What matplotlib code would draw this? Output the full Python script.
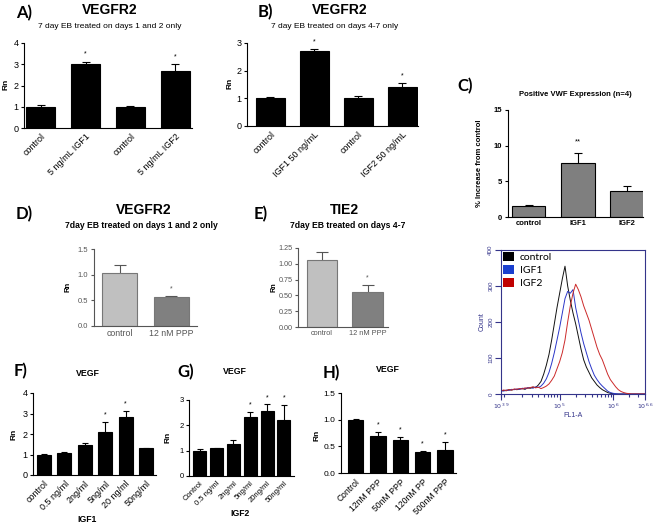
import numpy as np
import matplotlib
matplotlib.use('Agg')
import matplotlib.pyplot as plt
from matplotlib.patches import Patch

plt.rcParams['font.family'] = ['Liberation Sans', 'DejaVu Sans']

# ---- data ----
a_labels = ['control', '5 ng/mL IGF1', 'control', '5 ng/mL IGF2']
a_vals = [1.0, 3.0, 1.0, 2.67]
a_errs = [0.07, 0.12, 0.03, 0.33]
a_stars = ['', '*', '', '*']

b_labels = ['control', 'IGF1 50 ng/mL', 'control', 'IGF2 50 ng/mL']
b_vals = [1.0, 2.7, 1.0, 1.42]
b_errs = [0.05, 0.08, 0.07, 0.12]
b_stars = ['', '*', '', '*']

c_labels = ['control', 'IGF1', 'IGF2']
c_vals = [1.6, 7.6, 3.6]
c_errs = [0.15, 1.4, 0.7]
c_stars = ['', '**', '']

d_labels = ['control', '12 nM PPP']
d_vals = [1.03, 0.57]
d_errs = [0.15, 0.02]
d_stars = ['', '*']

e_labels = ['control', '12 nM PPP']
e_vals = [1.06, 0.55]
e_errs = [0.12, 0.12]
e_stars = ['', '*']

f_labels = ['control', '0.5 ng/ml', '2ng/ml', '5ng/ml', '20 ng/ml', '50ng/ml']
f_vals = [1.0, 1.07, 1.45, 2.12, 2.85, 1.32]
f_errs = [0.03, 0.06, 0.13, 0.45, 0.25, 0.02]
f_stars = ['', '', '', '*', '*', '']

g_labels = ['Control', '0.5 ng/ml', '2ng/ml', '5ng/ml', '20ng/ml', '50ng/ml']
g_vals = [1.0, 1.1, 1.27, 2.32, 2.58, 2.22]
g_errs = [0.07, 0.02, 0.17, 0.2, 0.25, 0.58]
g_stars = ['', '', '', '*', '*', '*']

h_labels = ['Control', '12nM PPP', '50nM PPP', '120nM PP', '500nM PPP']
h_vals = [1.0, 0.69, 0.61, 0.39, 0.44]
h_errs = [0.01, 0.07, 0.06, 0.02, 0.14]
h_stars = ['', '*', '*', '*', '*']

# flow cytometry histogram (log10 FL1-A vs count)
flow_log = [3.90, 3.95, 4.00, 4.05, 4.10, 4.15, 4.20, 4.25, 4.30, 4.35,
            4.40, 4.45, 4.50, 4.55, 4.60, 4.65, 4.70, 4.75, 4.80, 4.85,
            4.90, 4.95, 5.00, 5.05, 5.10, 5.15, 5.20, 5.25, 5.30, 5.35,
            5.40, 5.45, 5.50, 5.55, 5.60, 5.65, 5.70, 5.75, 5.80, 5.85,
            5.90, 5.95, 6.00, 6.05, 6.10, 6.15, 6.20, 6.25, 6.30, 6.35,
            6.40, 6.45, 6.50, 6.55, 6.60]
flow_control = [8, 10, 9, 12, 11, 13, 12, 14, 15, 13,
                17, 16, 19, 18, 25, 35, 55, 80, 110, 150,
                195, 240, 280, 320, 355, 300, 260, 225, 195, 160,
                125, 95, 75, 60, 45, 35, 25, 18, 12, 8,
                4, 2, 1, 0, 0, 0, 0, 0, 0, 0,
                0, 0, 0, 0, 0]
flow_igf1 = [10, 8, 11, 10, 13, 12, 14, 13, 16, 15,
             17, 18, 16, 20, 18, 22, 30, 42, 60, 85,
             115, 150, 185, 225, 265, 285, 280, 290, 240, 205,
             170, 140, 115, 90, 70, 52, 40, 30, 22, 15,
             8, 4, 2, 1, 0, 0, 0, 0, 0, 0,
             0, 0, 0, 0, 0]
flow_igf2 = [9, 11, 10, 12, 11, 14, 13, 15, 14, 17,
             16, 18, 20, 17, 19, 15, 18, 22, 28, 38,
             50, 70, 90, 115, 150, 200, 245, 280, 305, 290,
             270, 245, 225, 205, 180, 155, 130, 110, 95, 75,
             55, 40, 30, 20, 12, 7, 4, 2, 1, 0,
             0, 0, 0, 0, 0]
flow_names = ['control', 'IGF1', 'IGF2']

W, H = 661, 526
fig = plt.figure(figsize=(W / 100, H / 100), dpi=100)


def px_axes(x0, y0, x1, y1):
    return fig.add_axes([x0 / W, 1 - y1 / H, (x1 - x0) / W, (y1 - y0) / H])


def px_text(x, y, s, **kw):
    kw.setdefault('ha', 'center')
    kw.setdefault('va', 'center')
    fig.text(x / W, 1 - y / H, s, **kw)


def bar_panel(box, labels, vals, errs, stars, ylim, yticks, xlim, ylab_px,
              ytlabels=None, color='black', edge='black', ecolor='black',
              acolor='black', rot=45, ytick_fs=6.5, xtick_fs=6.5,
              ylabel='Rn', ylabel_fs=6, star_fs=5, bold=False, width=0.66,
              capsize=3, star_off=0.09):
    ax = px_axes(*box)
    x = np.arange(len(vals))
    ax.bar(x, vals, width=width, color=color, edgecolor=edge, linewidth=0.8, zorder=2)
    eb = ax.errorbar(x, vals, yerr=[np.zeros(len(vals)), errs], fmt='none',
                     ecolor=ecolor, elinewidth=0.8, capsize=capsize,
                     capthick=0.8, zorder=1)
    eb[1][0].set_visible(False)
    span = ylim[1] - ylim[0]
    for xi, v, e, s in zip(x, vals, errs, stars):
        if s:
            ax.text(xi, v + e + star_off * span, s, ha='center', va='center',
                    fontsize=star_fs, color=ecolor)
    ax.set_xlim(xlim)
    ax.set_ylim(ylim)
    ax.set_yticks(yticks)
    if ytlabels is not None:
        ax.set_yticklabels(ytlabels)
    ax.set_xticks(x)
    fw = 'bold' if bold else 'normal'
    if rot:
        ax.set_xticklabels(labels, rotation=rot, ha='right', rotation_mode='anchor',
                           fontsize=xtick_fs, fontweight=fw)
    else:
        ax.set_xticklabels(labels, fontsize=xtick_fs, fontweight=fw)
    for t in ax.get_yticklabels():
        t.set_fontsize(ytick_fs)
        t.set_fontweight(fw)
    for s in ['top', 'right']:
        ax.spines[s].set_visible(False)
    for s in ['left', 'bottom']:
        ax.spines[s].set_color(acolor)
        ax.spines[s].set_linewidth(0.8)
    ax.tick_params(axis='y', length=2.5, width=0.8, colors=acolor, pad=1.5)
    ax.tick_params(axis='x', length=0, colors=acolor, pad=3 if rot else 2)
    ax.set_ylabel(ylabel, fontsize=ylabel_fs, fontweight='bold', color='black')
    lx, ly = ylab_px
    ax.yaxis.set_label_coords((lx - box[0]) / (box[2] - box[0]),
                              (box[3] - ly) / (box[3] - box[1]))
    return ax


# A
bar_panel((24, 43, 192, 128), a_labels, a_vals, a_errs, a_stars, (0, 4), [0, 1, 2, 3, 4],
          (-0.37, 3.37), (10, 84))
px_text(24, 13, 'A)', fontsize=12, fontweight='bold', family='Lato')
px_text(110, 10, 'VEGFR2', fontsize=10, fontweight='bold')
px_text(110, 26, '7 day EB treated on days 1 and 2 only', fontsize=6)

# B
bar_panel((247, 43, 418, 126), b_labels, b_vals, b_errs, b_stars, (0, 3), [0, 1, 2, 3],
          (-0.53, 3.36), (233, 83))
px_text(265, 12, 'B)', fontsize=12, fontweight='bold', family='Lato')
px_text(340, 10, 'VEGFR2', fontsize=10, fontweight='bold')
px_text(335, 26, '7 day EB treated on days 4-7 only', fontsize=6)

# C (bar)
bar_panel((508, 110, 643, 217), c_labels, c_vals, c_errs, c_stars, (0, 15), [0, 5, 10, 15],
          (-0.42, 2.32), (483, 163), color='#7f7f7f', rot=0, ytick_fs=5.5, xtick_fs=5.5,
          ylabel='% Increase from control', ylabel_fs=5.5, bold=True, width=0.68,
          star_fs=5.5, star_off=0.1)
px_text(465, 86, 'C)', fontsize=12, fontweight='bold', family='Lato')
px_text(575, 95, 'Positive VWF Expression (n=4)', fontsize=5.5, fontweight='bold')

# C (flow histogram)
navy = '#34348a'
axf = px_axes(501, 250, 645, 394)
axf.set_xscale('log')
fx = 10 ** np.array(flow_log)
axf.plot(fx, flow_control, color='#111111', lw=0.7)
axf.plot(fx, flow_igf1, color='#2a36c8', lw=0.7)
axf.plot(fx, flow_igf2, color='#cc2a2a', lw=0.7)
axf.set_xlim(10 ** 3.9, 10 ** 6.6)
axf.set_ylim(0, 400)
axf.set_xticks([10 ** 3.9, 1e5, 1e6, 10 ** 6.6])
axf.set_xticklabels([r'$10^{3.9}$', r'$10^{5}$', r'$10^{6}$', r'$10^{6.6}$'], fontsize=4.5, color=navy)
axf.set_yticks([0, 100, 200, 300, 400])
axf.set_yticklabels(['0', '100', '200', '300', '400'], fontsize=4.5, color=navy, rotation=90, va='center')
for s in axf.spines.values():
    s.set_color(navy)
    s.set_linewidth(0.8)
axf.tick_params(which='major', length=4, width=0.8, colors=navy, pad=1.5)
axf.tick_params(which='minor', length=2.5, width=0.8, colors=navy)
axf.set_xlabel('FL1-A', fontsize=5, color=navy, labelpad=1)
axf.set_ylabel('Count', fontsize=5, color=navy, labelpad=2)
handles = [Patch(facecolor=c, edgecolor='none') for c in ['#000000', '#1a3fcf', '#c00000']]
axf.legend(handles, flow_names, loc='upper left', frameon=False,
           handlelength=1.0, handleheight=1.0, handletextpad=0.6, labelspacing=0.25,
           borderaxespad=0.1, borderpad=0.1, prop={'family': 'Lato', 'size': 7.5})

# D
bar_panel((94, 249, 197, 326), d_labels, d_vals, d_errs, d_stars, (0, 1.5), [0, 0.5, 1.0, 1.5],
          (-0.5, 1.5), (71, 287), ytlabels=['0.0', '0.5', '1.0', '1.5'],
          color=['#c0c0c0', '#808080'], edge='#777777', ecolor='#555555', acolor='#555555',
          rot=0, ytick_fs=5.5, xtick_fs=6.3, ylabel_fs=5.5, width=0.67, capsize=4)
px_text(24, 214, 'D)', fontsize=12, fontweight='bold', family='Lato')
px_text(144, 210, 'VEGFR2', fontsize=10, fontweight='bold')
px_text(141, 226, '7day EB treated on days 1 and 2 only', fontsize=6.2, fontweight='bold')

# E
bar_panel((298, 248, 388, 327), e_labels, e_vals, e_errs, e_stars, (0, 1.25),
          [0, 0.25, 0.5, 0.75, 1.0, 1.25], (-0.53, 1.45), (277, 287),
          ytlabels=['0.00', '0.25', '0.50', '0.75', '1.00', '1.25'],
          color=['#c0c0c0', '#808080'], edge='#777777', ecolor='#555555', acolor='#555555',
          rot=0, ytick_fs=5.2, xtick_fs=5.3, ylabel_fs=5.2, width=0.67, capsize=4)
px_text(261, 214, 'E)', fontsize=12, fontweight='bold', family='Lato')
px_text(344, 210, 'TIE2', fontsize=10, fontweight='bold')
px_text(348, 226, '7day EB treated on days 4-7', fontsize=6.2, fontweight='bold')

# F
bar_panel((33, 393, 156, 475), f_labels, f_vals, f_errs, f_stars, (0, 4), [0, 1, 2, 3, 4],
          (-0.54, 5.49), (17, 434), width=0.69, capsize=2.5)
px_text(21, 371, 'F)', fontsize=12, fontweight='bold', family='Lato')
px_text(88, 373, 'VEGF', fontsize=6.3, fontweight='bold')
px_text(87, 520, 'IGF1', fontsize=6.2, fontweight='bold')

# G
bar_panel((189, 400, 294, 476), g_labels, g_vals, g_errs, g_stars, (0, 3), [0, 1, 2, 3],
          (-0.64, 5.6), (172, 437), width=0.78, capsize=2.5, ytick_fs=5.5, xtick_fs=5.5)
px_text(186, 372, 'G)', fontsize=12, fontweight='bold', family='Lato')
px_text(235, 371, 'VEGF', fontsize=6.3, fontweight='bold')
px_text(240, 514, 'IGF2', fontsize=6.2, fontweight='bold')

# H
bar_panel((341, 393, 456, 473), h_labels, h_vals, h_errs, h_stars, (0, 1.5),
          [0, 0.5, 1.0, 1.5], (-0.65, 4.49), (320, 435),
          ytlabels=['0.0', '0.5', '1.0', '1.5'], width=0.68, capsize=2.5,
          ytick_fs=6, xtick_fs=6.2)
px_text(331, 373, 'H)', fontsize=12, fontweight='bold', family='Lato')
px_text(388, 370, 'VEGF', fontsize=6.3, fontweight='bold')

fig.savefig('out.png', dpi=100)
